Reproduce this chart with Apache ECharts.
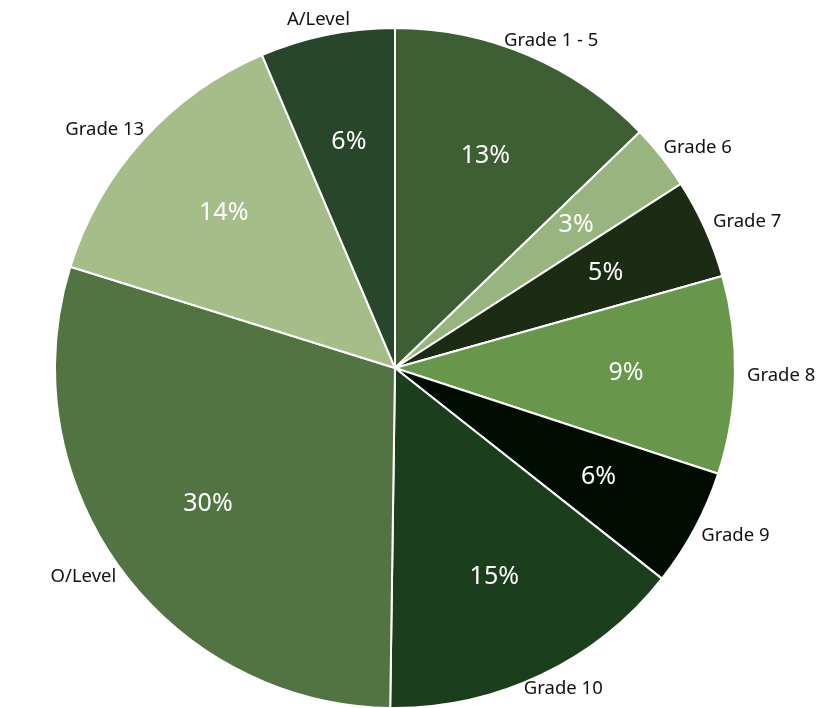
<!DOCTYPE html>
<html>
<head>
<meta charset="utf-8">
<script src="https://cdn.jsdelivr.net/npm/echarts@6/dist/echarts.min.js"></script>
<style>
html,body{margin:0;padding:0;background:#fff;}
#chart{width:824px;height:708px;}
</style>
</head>
<body>
<div id="chart"></div>
<script>
const categories = ['Grade 1 - 5', 'Grade 6', 'Grade 7', 'Grade 8', 'Grade 9', 'Grade 10', 'O/Level', 'Grade 13', 'A/Level'];
const values = [12.8, 3.1, 4.75, 9.4, 5.6, 14.6, 29.6, 13.8, 6.4];
const colors = ['#3e5f33', '#98b57f', '#1b2b14', '#68964b', '#010d03', '#1b3f1c', '#527443', '#a4bd89', '#28472a'];

const total = values.reduce((a, b) => a + b, 0);
const CX = 395, CY = 368, R = 340, GAP = 6, KX = 6;
const FONT = '"Noto Sans", Lato, sans-serif';

// mid angle of each slice (radians, clockwise from 12 o'clock)
const midAngles = [];
let acc = 0;
values.forEach(v => {
  const a0 = acc / total * 2 * Math.PI;
  acc += v;
  const a1 = acc / total * 2 * Math.PI;
  midAngles.push((a0 + a1) / 2);
});

const data = categories.map((c, i) => ({ name: c, value: values[i], itemStyle: { color: colors[i] } }));

const chart = echarts.init(document.getElementById('chart'), null, { renderer: 'canvas' });
chart.setOption({
  backgroundColor: '#ffffff',
  animation: false,
  series: [
    {
      type: 'pie',
      center: [CX, CY],
      radius: [0, R],
      startAngle: 90,
      clockwise: true,
      avoidLabelOverlap: false,
      data: data,
      itemStyle: { borderColor: '#ffffff', borderWidth: 2 },
      label: {
        show: true,
        position: 'outside',
        formatter: '{b}',
        color: '#111111',
        fontFamily: FONT,
        fontSize: 18.5
      },
      labelLine: { show: false, length: 0, length2: 0 },
      labelLayout: function (p) {
        const a = midAngles[p.dataIndex];
        const s = Math.sin(a), c = Math.cos(a);
        const w = p.labelRect.width, h = p.labelRect.height;
        const px = CX + (R + GAP) * s;
        const py = CY - (R + GAP) * c;
        return {
          x: px + s * (w / 2 + KX),
          y: py - c * h / 2,
          align: 'center',
          verticalAlign: 'middle'
        };
      },
      emphasis: { disabled: true }
    },
    {
      type: 'pie',
      center: [CX, CY],
      radius: [116, R],
      startAngle: 90,
      clockwise: true,
      silent: true,
      avoidLabelOverlap: false,
      data: categories.map((c, i) => ({ name: c, value: values[i] })),
      itemStyle: { color: 'rgba(0,0,0,0)', borderWidth: 0 },
      label: {
        show: true,
        position: 'inside',
        formatter: p => Math.round(p.value / total * 100) + '%',
        color: '#ffffff',
        fontFamily: FONT,
        fontSize: 25
      },
      labelLine: { show: false },
      emphasis: { disabled: true }
    }
  ]
});
</script>
</body>
</html>
